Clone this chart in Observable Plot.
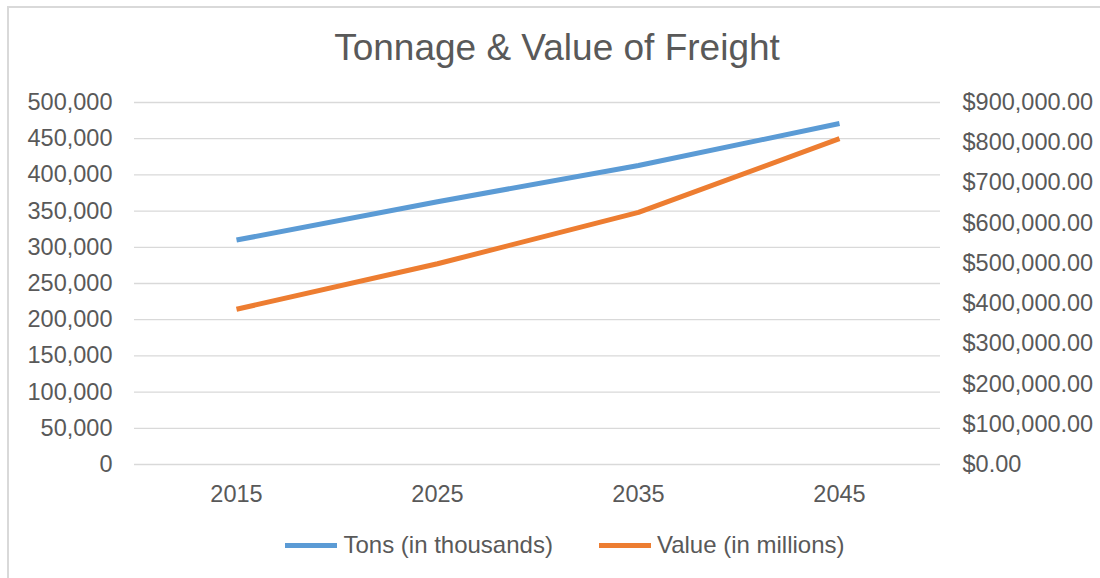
<!DOCTYPE html>
<html>
<head>
<meta charset="utf-8">
<script src="https://cdn.jsdelivr.net/npm/d3@7"></script>
<script src="https://cdn.jsdelivr.net/npm/@observablehq/plot@0.6"></script>
<style>
  html, body { margin: 0; padding: 0; overflow: hidden; background: #fff; }
  body { width: 1100px; height: 578px; position: relative; font-family: Arial, "Liberation Sans", sans-serif; color: #595959; }
  .frame { position: absolute; left: 7px; top: 6px; width: 1300px; height: 800px; border-left: 2px solid #d9d9d9; border-top: 2px solid #d9d9d9; box-sizing: border-box; pointer-events: none; }
  #chart { position: relative; }
  .title { height: 80px; box-sizing: border-box; padding-top: 28px; padding-left: 14px; font-size: 37px; line-height: 40px; text-align: center; white-space: nowrap; }
  .legend { height: 50px; box-sizing: border-box; padding-left: 30px; display: flex; justify-content: center; align-items: center; font-size: 24px; line-height: 28px; }
  .legend .item { display: flex; align-items: center; }
  .legend .item + .item { margin-left: 46px; }
  .legend .swatch { width: 52px; height: 5px; margin-right: 6px; }
  svg { display: block; }
</style>
</head>
<body>
<div class="frame"></div>
<div id="chart"></div>
<script>
// Freight forecast by year
const years = [2015, 2025, 2035, 2045];
const tons = [310000, 363000, 413000, 471000];     // tons, in thousands
const values = [386000, 499000, 627000, 810000];   // value, in millions of dollars

// Axis ticks for the two y axes
const tonTicks = [0, 50000, 100000, 150000, 200000, 250000, 300000, 350000, 400000, 450000, 500000];
const valueTicks = [0, 100000, 200000, 300000, 400000, 500000, 600000, 700000, 800000, 900000];

const seriesNames = ["Tons (in thousands)", "Value (in millions)"];
const seriesColors = ["#5B9BD5", "#ED7D31"];

const tonMax = d3.max(tonTicks);
const valueMax = d3.max(valueTicks);
const k = tonMax / valueMax; // maps the value series onto the tonnage scale

const rows = years.map((year, i) => ({year, tons: tons[i], value: values[i]}));

const plot = Plot.plot({
  width: 1100,
  height: 440,
  marginTop: 22,
  marginBottom: 56,
  marginLeft: 134,
  marginRight: 160,
  style: {fontFamily: 'Arial, "Liberation Sans", sans-serif', fontSize: "23.5px", color: "#595959", background: "transparent"},
  x: {type: "point", domain: years, padding: 0.5},
  y: {domain: [0, tonMax]},
  marks: [
    Plot.ruleY(tonTicks, {stroke: "#d9d9d9", strokeWidth: 1.3}),
    Plot.axisY(tonTicks, {anchor: "left", tickSize: 0, tickPadding: 22, tickFormat: d3.format(","), label: null}),
    Plot.axisY(valueTicks.map(v => v * k), {anchor: "right", tickSize: 0, tickPadding: 22, tickFormat: v => "$" + d3.format(",.2f")(v / k), label: null}),
    Plot.axisX({tickSize: 0, tickPadding: 21, tickFormat: d => String(d), label: null}),
    Plot.line(rows, {x: "year", y: "tons", stroke: seriesColors[0], strokeWidth: 5, strokeLinecap: "butt"}),
    Plot.line(rows, {x: "year", y: d => d.value * k, stroke: seriesColors[1], strokeWidth: 5, strokeLinecap: "butt"})
  ]
});

const chart = document.getElementById("chart");

const title = document.createElement("div");
title.className = "title";
title.textContent = "Tonnage & Value of Freight";
chart.appendChild(title);

chart.appendChild(plot);

const legend = document.createElement("div");
legend.className = "legend";
seriesNames.forEach((name, i) => {
  const item = document.createElement("div");
  item.className = "item";
  const sw = document.createElement("span");
  sw.className = "swatch";
  sw.style.background = seriesColors[i];
  const label = document.createElement("span");
  label.textContent = name;
  item.appendChild(sw);
  item.appendChild(label);
  legend.appendChild(item);
});
chart.appendChild(legend);
</script>
</body>
</html>
